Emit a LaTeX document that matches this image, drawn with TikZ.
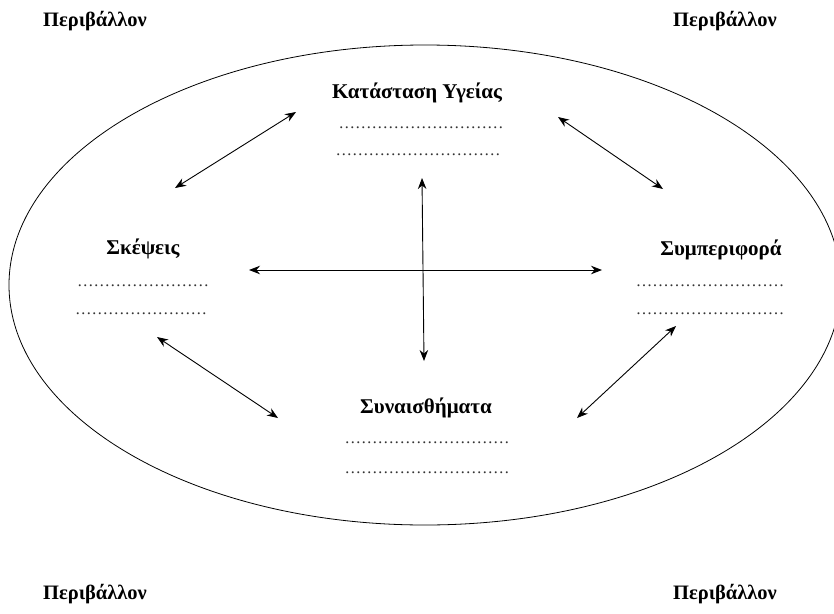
\documentclass[tikz,border=0pt]{standalone}
\usepackage{fontspec}
\setmainfont{Liberation Serif}
\usetikzlibrary{arrows.meta}
\tikzset{
  title/.style={font=\fontsize{21}{24}\selectfont\bfseries, inner sep=0pt, anchor=base},
  env/.style={font=\fontsize{20.5}{24}\selectfont\bfseries, inner sep=0pt, anchor=base},
  dotline/.style={font=\fontsize{16.5}{18}\selectfont, inner sep=0pt, anchor=base, text=black!80},
  link/.style={line width=0.9pt, {Stealth[length=11pt,width=8.5pt]}-{Stealth[length=11pt,width=8.5pt]}},
}
\begin{document}
\begin{tikzpicture}[x=1pt,y=-1pt]
\useasboundingbox (0,0) rectangle (834,613);
\clip (0,0) rectangle (834,613);

% outer boundary
\draw[line width=0.8pt] (425,285) ellipse [x radius=416, y radius=240];

% environment labels in the corners
\node[env] (envTL) at (95,26) {Περιβάλλον};
\node[env] (envTR) at (725,26) {Περιβάλλον};
\node[env] (envBL) at (95,599) {Περιβάλλον};
\node[env] (envBR) at (725,599) {Περιβάλλον};

% the four factors
\node[title] (health) at (417,98) {Κατάσταση Υγείας};
\node[dotline] (h1) at (421,128) {…………………………};
\node[dotline] (h2) at (418,155) {…………………………};

\node[title] (thoughts) at (143,254) {Σκέψεις};
\node[dotline] (t1) at (143,286) {……………………};
\node[dotline] (t2) at (141,314) {……………………};

\node[title] (behaviour) at (721,255) {Συμπεριφορά};
\node[dotline] (b1) at (710,286) {………………………};
\node[dotline] (b2) at (710,314) {………………………};

\node[title] (emotions) at (426,413) {Συναισθήματα};
\node[dotline] (e1) at (427,443) {…………………………};
\node[dotline] (e2) at (427,473) {…………………………};

% arrow end points
\coordinate (tlA) at (175,188);
\coordinate (tlB) at (296,112);
\coordinate (trA) at (558,117);
\coordinate (trB) at (663,189);
\coordinate (vA) at (422,178);
\coordinate (vB) at (424,361);
\coordinate (hA) at (249,270);
\coordinate (hB) at (602,270);
\coordinate (blA) at (157,337);
\coordinate (blB) at (278,418);
\coordinate (brA) at (676,326);
\coordinate (brB) at (577,418);

\draw[link] (tlA) -- (tlB);
\draw[link] (trA) -- (trB);
\draw[link] (vA) -- (vB);
\draw[link] (hA) -- (hB);
\draw[link] (blA) -- (blB);
\draw[link] (brA) -- (brB);
\end{tikzpicture}
\end{document}
